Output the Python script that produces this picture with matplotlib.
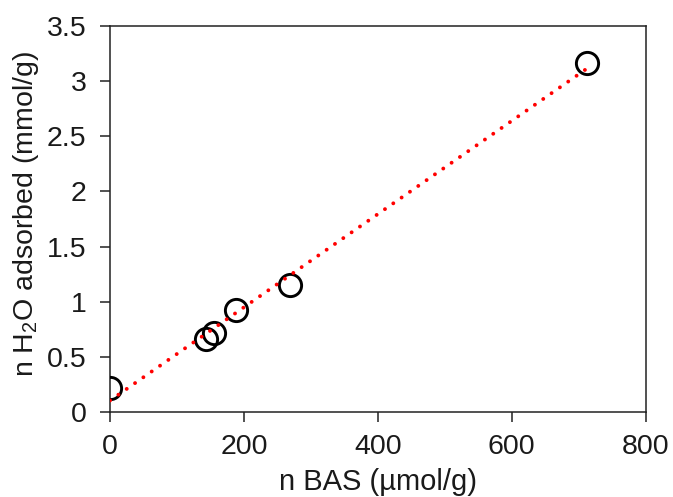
import numpy as np
import matplotlib
matplotlib.use("Agg")
import matplotlib.pyplot as plt

plt.rcParams['font.family'] = ['Liberation Sans', 'DejaVu Sans']
plt.rcParams['mathtext.default'] = 'regular'

# Data
n_bas = [0, 143, 156, 188, 269, 712]          # µmol/g
n_h2o = [0.215, 0.66, 0.72, 0.925, 1.15, 3.16]  # mmol/g

x_ticks = [0, 200, 400, 600, 800]
y_ticks = [0, 0.5, 1, 1.5, 2, 2.5, 3, 3.5]
y_tick_labels = ['0', '0.5', '1', '1.5', '2', '2.5', '3', '3.5']

fig = plt.figure(figsize=(6.73, 4.97), dpi=100)
ax = fig.add_axes([0.1635, 0.171, 0.7959, 0.7767])

ax.plot(n_bas, n_h2o, linestyle='none', marker='o', markersize=16,
        markerfacecolor='none', markeredgecolor='black', markeredgewidth=2.1,
        zorder=3)

# linear trendline
slope, intercept = np.polyfit(n_bas, n_h2o, 1)
xs = np.array([min(n_bas), max(n_bas)])
ax.plot(xs, slope * xs + intercept, color='#ff0000', linewidth=2.8,
        linestyle=(0, (0.01, 2.6)), dash_capstyle='round', zorder=4)

ax.set_xlim(0, 800)
ax.set_ylim(0, 3.5)
ax.set_xticks(x_ticks)
ax.set_xticklabels([str(t) for t in x_ticks])
ax.set_yticks(y_ticks)
ax.set_yticklabels(y_tick_labels)

for s in ax.spines.values():
    s.set_linewidth(1.1)
    s.set_color('#222222')

ax.tick_params(axis='both', direction='out', length=7, width=1.1,
               color='#222222', labelsize=20.5, labelcolor='#1a1a1a')
ax.tick_params(axis='y', pad=10)
ax.tick_params(axis='x', pad=9)

ax.set_xlabel('n BAS (µmol/g)', fontsize=21, color='#1a1a1a')
ax.set_ylabel('n H$_2$O adsorbed (mmol/g)', fontsize=20.5, color='#1a1a1a')
ax.xaxis.set_label_coords(0.5, -0.145)
ax.yaxis.set_label_coords(-0.128, 0.513)

fig.savefig('out.png', dpi=100)
